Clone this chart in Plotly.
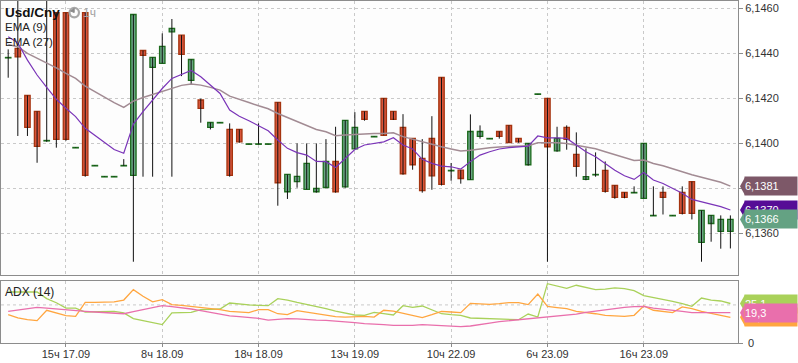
import plotly.graph_objects as go

# ---------------- data ----------------
tick_idx = [6, 16, 26, 36, 46, 56, 66]
tick_labels = ["15ч 17.09", "8ч 18.09", "18ч 18.09", "13ч 19.09", "10ч 22.09", "6ч 23.09", "16ч 23.09"]
price_ticks = [6.1360, 6.1380, 6.1400, 6.1420, 6.1440, 6.1460]

open_ = [6.14380, 6.14422, 6.14213, 6.14142, 6.14011, 6.14581, 6.14581, 6.13980, 6.14581, 6.13900,
         6.13851, 6.13851, 6.13900, 6.13858, 6.14413, 6.14338, 6.14356, 6.14496, 6.14481, 6.14280,
         6.14193, 6.14071, 6.14091, 6.14062, 6.14062, 6.13996, 6.13996, 6.13996, 6.14182, 6.13785,
         6.13830, 6.13796, 6.13785, 6.13804, 6.13920, 6.13807, 6.13976, 6.14142, 6.14029, 6.14200,
         6.14142, 6.14071, 6.14022, 6.13933, 6.14022, 6.14293, 6.13878, 6.13881, 6.13839, 6.14031,
         6.14020, 6.14053, 6.14080, 6.14022, 6.13905, 6.14218, 6.14200, 6.13967, 6.14071, 6.13951,
         6.13840, 6.13860, 6.13880, 6.13813, 6.13782, 6.13780, 6.13756, 6.13678, 6.13782, 6.13678,
         6.13782, 6.13830, 6.13560, 6.13644, 6.13609, 6.13609]
high = [6.14418, 6.14660, 6.14213, 6.14142, 6.14660, 6.14581, 6.14581, 6.13982, 6.14581, 6.13902,
        6.13853, 6.13853, 6.13930, 6.14573, 6.14413, 6.14382, 6.14489, 6.14553, 6.14481, 6.14373,
        6.14199, 6.14093, 6.14093, 6.14089, 6.14062, 6.13998, 6.14089, 6.13998, 6.14182, 6.13862,
        6.14000, 6.14000, 6.14000, 6.14019, 6.14074, 6.14102, 6.14139, 6.14142, 6.14031, 6.14200,
        6.14142, 6.14130, 6.14022, 6.14019, 6.14121, 6.14293, 6.13913, 6.13881, 6.14129, 6.14080,
        6.14022, 6.14053, 6.14080, 6.14022, 6.14000, 6.14220, 6.14200, 6.14074, 6.14080, 6.14049,
        6.13978, 6.13960, 6.13920, 6.13813, 6.13782, 6.13809, 6.14000, 6.13809, 6.13809, 6.13680,
        6.13809, 6.13830, 6.13702, 6.13680, 6.13680, 6.13680]
low = [6.14292, 6.14033, 6.14033, 6.13914, 6.14007, 6.13981, 6.14012, 6.13980, 6.13852, 6.13900,
       6.13851, 6.13851, 6.13900, 6.13474, 6.13852, 6.13852, 6.14356, 6.13852, 6.14299, 6.14262,
       6.14092, 6.14062, 6.14091, 6.13852, 6.14003, 6.13996, 6.13996, 6.13996, 6.13723, 6.13753,
       6.13803, 6.13796, 6.13781, 6.13804, 6.13781, 6.13803, 6.13976, 6.14101, 6.14029, 6.14036,
       6.14104, 6.13861, 6.13883, 6.13781, 6.13794, 6.13813, 6.13834, 6.13821, 6.13839, 6.14021,
       6.14020, 6.14021, 6.14004, 6.14003, 6.13901, 6.14218, 6.13474, 6.13963, 6.13972, 6.13852,
       6.13836, 6.13852, 6.13781, 6.13754, 6.13756, 6.13780, 6.13756, 6.13678, 6.13684, 6.13678,
       6.13684, 6.13662, 6.13474, 6.13563, 6.13532, 6.13533]
close = [6.14382, 6.14385, 6.14071, 6.13987, 6.14013, 6.14018, 6.14018, 6.13982, 6.13858, 6.13902,
         6.13853, 6.13853, 6.13902, 6.14573, 6.14391, 6.14382, 6.14431, 6.14511, 6.14396, 6.14373,
         6.14156, 6.14093, 6.14093, 6.13858, 6.14007, 6.13998, 6.13998, 6.13998, 6.13825, 6.13862,
         6.13853, 6.13911, 6.13800, 6.13920, 6.13785, 6.14102, 6.14071, 6.14107, 6.14031, 6.14036,
         6.14107, 6.13865, 6.13905, 6.13790, 6.13856, 6.13818, 6.13880, 6.13844, 6.14053, 6.14053,
         6.14022, 6.14031, 6.14004, 6.14007, 6.14000, 6.14220, 6.13985, 6.14022, 6.14018, 6.13898,
         6.13852, 6.13862, 6.13787, 6.13760, 6.13760, 6.13782, 6.14000, 6.13680, 6.13760, 6.13680,
         6.13689, 6.13689, 6.13702, 6.13680, 6.13662, 6.13662]

ema9 = [6.14474, 6.14447, 6.14370, 6.14304, 6.14249, 6.14196, 6.14156, 6.14119, 6.14067, 6.14037,
        6.14003, 6.13973, 6.13956, 6.14086, 6.14141, 6.14193, 6.14244, 6.14289, 6.14308, 6.14324,
        6.14296, 6.14259, 6.14222, 6.14148, 6.14121, 6.14101, 6.14077, 6.14056, 6.14015, 6.13978,
        6.13959, 6.13948, 6.13920, 6.13919, 6.13893, 6.13933, 6.13973, 6.13993, 6.14000, 6.14007,
        6.14025, 6.13993, 6.13975, 6.13929, 6.13911, 6.13899, 6.13896, 6.13886, 6.13919, 6.13948,
        6.13963, 6.13975, 6.13981, 6.13985, 6.13988, 6.14033, 6.14025, 6.14025, 6.14022, 6.13993,
        6.13963, 6.13941, 6.13911, 6.13881, 6.13856, 6.13840, 6.13871, 6.13837, 6.13822, 6.13800,
        6.13778, 6.13751, 6.13741, 6.13730, 6.13719, 6.13704]
ema27 = [6.14440, 6.14430, 6.14400, 6.14378, 6.14359, 6.14336, 6.14311, 6.14289, 6.14255, 6.14230,
         6.14204, 6.14181, 6.14160, 6.14188, 6.14204, 6.14218, 6.14233, 6.14247, 6.14258, 6.14264,
         6.14259, 6.14249, 6.14237, 6.14210, 6.14197, 6.14182, 6.14167, 6.14154, 6.14133, 6.14116,
         6.14096, 6.14081, 6.14062, 6.14052, 6.14034, 6.14037, 6.14040, 6.14043, 6.14044, 6.14044,
         6.14047, 6.14030, 6.14018, 6.14007, 6.13994, 6.13985, 6.13975, 6.13966, 6.13970, 6.13976,
         6.13981, 6.13984, 6.13985, 6.13988, 6.13990, 6.14003, 6.14004, 6.14003, 6.14000, 6.13993,
         6.13985, 6.13976, 6.13963, 6.13951, 6.13938, 6.13924, 6.13926, 6.13911, 6.13901, 6.13889,
         6.13874, 6.13861, 6.13849, 6.13840, 6.13827, 6.13810]

adx_green = [32.4, 32.4, 32.4, 32.4, 28.2, 25.6, 22.2, 22.2, 19.7, 19.9,
             19.9, 20.1, 19.1, 15.5, 14.2, 12.9, 11.7, 19.1, 19.3, 19.5,
             21.2, 21.4, 21.6, 25.4, 24.6, 24.2, 23.9, 23.7, 28.2, 27.3,
             25.8, 24.6, 23.3, 21.8, 20.3, 18.9, 17.8, 17.6, 19.5, 18.6,
             17.8, 23.7, 22.7, 23.5, 21.2, 18.6, 18.0, 17.6, 15.9, 15.7,
             15.5, 15.3, 14.8, 14.8, 18.4, 16.5, 37.7, 36.0, 34.7, 36.7,
             35.2, 33.9, 34.3, 35.0, 34.5, 33.3, 30.1, 29.0, 28.0, 26.5,
             25.0, 23.3, 28.6, 27.3, 26.7, 25.1]
adx_orange = [18.0, 15.9, 14.8, 14.2, 20.8, 19.1, 17.4, 16.9, 25.8, 25.8,
              25.8, 26.1, 27.3, 33.9, 29.7, 26.1, 27.5, 24.4, 23.9, 23.3,
              22.5, 21.8, 21.2, 20.1, 19.5, 19.3, 21.2, 21.2, 18.6, 18.0,
              20.6, 19.7, 18.9, 18.0, 16.7, 16.5, 16.9, 16.9, 16.5, 20.8,
              20.3, 18.9, 17.4, 16.1, 18.0, 20.1, 19.7, 19.3, 25.2, 24.8,
              24.6, 25.0, 25.6, 25.6, 24.4, 31.1, 23.3, 22.5, 21.8, 20.1,
              19.5, 18.6, 17.6, 17.2, 16.9, 17.6, 23.5, 20.8, 19.9, 19.3,
              22.9, 21.8, 20.1, 18.9, 17.8, 16.3]
adx_pink = [20.1, 21.0, 21.8, 22.7, 22.2, 21.6, 21.0, 20.6, 20.1, 19.7,
            19.3, 18.9, 18.6, 19.9, 21.2, 22.5, 23.7, 23.1, 22.5, 21.6,
            20.6, 19.5, 18.0, 17.2, 16.7, 16.3, 15.7, 14.6, 15.0, 15.5,
            15.3, 14.8, 14.6, 14.4, 14.0, 13.6, 12.9, 12.3, 12.1, 11.7,
            11.2, 11.2, 11.2, 11.7, 11.4, 11.2, 10.8, 10.4, 10.8, 11.9,
            12.7, 13.6, 14.2, 14.6, 15.0, 15.7, 16.3, 16.9, 17.6, 18.4,
            19.5, 20.1, 21.0, 21.8, 22.7, 23.1, 23.3, 22.2, 21.6, 21.0,
            20.1, 19.3, 19.3, 19.3, 19.3, 19.3]
adx_grid_level = 24.2

# ---------------- figure ----------------
n = len(close)
x = list(range(n))
up = [c >= o for o, c in zip(open_, close)]
body_base = [min(o, c) for o, c in zip(open_, close)]
body_len = [abs(c - o) for o, c in zip(open_, close)]

FONT = "Liberation Sans, Arial, sans-serif"
GRID = "#c9c9c9"
FRAME = "#8c8c8c"
C_EMA9, C_EMA27 = "#7a34b8", "#a28b93"
C_EMA9_TAG, C_EMA27_TAG = "#560c96", "#7d5868"
C_UP_TAG = "#64a283"
C_G, C_O, C_P = "#a9d15a", "#ffa640", "#e96fac"
UP_FILL, UP_LINE = "#69a683", "#1d6b1d"
DN_FILL, DN_LINE = "#d9553b", "#a5340f"

fig = go.Figure()
# wicks (black)
fig.add_trace(go.Ohlc(x=x, open=open_, high=high, low=low, close=close, xaxis="x", yaxis="y",
                      increasing=dict(line=dict(color="#111111", width=1)),
                      decreasing=dict(line=dict(color="#111111", width=1)),
                      tickwidth=0, hoverinfo="skip", showlegend=False))
# bodies
fig.add_trace(go.Bar(x=x, base=body_base, y=body_len, width=0.56, xaxis="x", yaxis="y",
                     marker=dict(color=[UP_FILL if u else DN_FILL for u in up],
                                 line=dict(color=[UP_LINE if u else DN_LINE for u in up], width=1.3)),
                     hoverinfo="skip", showlegend=False))
fig.add_trace(go.Scatter(x=x, y=ema27, mode="lines", line=dict(color=C_EMA27, width=1.5),
                         xaxis="x", yaxis="y", hoverinfo="skip", showlegend=False))
fig.add_trace(go.Scatter(x=x, y=ema9, mode="lines", line=dict(color=C_EMA9, width=1.2),
                         xaxis="x", yaxis="y", hoverinfo="skip", showlegend=False))
# ADX panel
for vals, col in ((adx_green, C_G), (adx_orange, C_O), (adx_pink, C_P)):
    fig.add_trace(go.Scatter(x=x, y=vals, mode="lines", line=dict(color=col, width=1.3),
                             xaxis="x2", yaxis="y2", hoverinfo="skip", showlegend=False))

# pixel helpers (plot area: x 1..738, y 1..343)
def PX(px):
    return (px - 1) / 737.0


def PY(py):
    return (343 - py) / 342.0


xr = [-0.747, 75.79]
axis_common = dict(showline=True, mirror=True, linecolor=FRAME, linewidth=1, zeroline=False)

fig.update_layout(
    width=798, height=363, margin=dict(l=1, r=60, t=1, b=20),
    paper_bgcolor="white", plot_bgcolor="#fdfdfd", showlegend=False,
    font=dict(family=FONT, size=11, color="#333333"),
    xaxis=dict(domain=[0, 1], anchor="y", range=xr, tickvals=tick_idx, showticklabels=False, ticks="",
               showgrid=True, gridcolor=GRID, griddash="dot", gridwidth=1,
               rangeslider=dict(visible=False), **axis_common),
    yaxis=dict(domain=[PY(275), 1], anchor="x", side="right", range=[6.13415, 6.14633],
               tickvals=price_ticks, ticktext=[f"{v:.4f}".replace(".", ",") for v in price_ticks],
               ticks="outside", ticklen=4, tickcolor=FRAME, showgrid=True, gridcolor=GRID, griddash="dot",
               tickfont=dict(size=11, color="#333333"), **axis_common),
    xaxis2=dict(domain=[0, 1], anchor="y2", matches="x", range=xr, tickvals=tick_idx, ticktext=tick_labels,
                ticks="outside", ticklen=3, tickcolor=FRAME, showgrid=True, gridcolor=GRID, griddash="dot",
                ticklabelstandoff=-2,
                tickfont=dict(size=11, color="#333333"), **axis_common),
    yaxis2=dict(domain=[0, PY(281)], anchor="x2", side="right", range=[0, 39.4], tickvals=[0],
                showticklabels=False,
                ticks="outside", ticklen=4, tickcolor=FRAME, showgrid=False, **axis_common),
)

shapes = [
    dict(type="line", xref="paper", yref="y2", x0=0, x1=1, y0=adx_grid_level, y1=adx_grid_level,
         line=dict(color=GRID, width=1, dash="dot"), layer="below"),
    dict(type="circle", xref="paper", yref="paper", x0=PX(69.5), x1=PX(79), y0=PY(17.3), y1=PY(7.8),
         line=dict(color="#a8a8a8", width=2.2)),
    dict(type="path", xref="paper", yref="paper",
         path=f"M {PX(74.2)},{PY(12.5)} L {PX(74.2)},{PY(8.6)} L {PX(70.6)},{PY(11)} Z",
         fillcolor="#8a8a8a", line=dict(color="#8a8a8a", width=1)),
]
annotations = [
    dict(text="<b>Usd/Cny</b>", xref="paper", yref="paper", x=PX(3), y=PY(12), xanchor="left",
         yanchor="middle", showarrow=False, font=dict(size=13.5, color="#111111", family=FONT)),
    dict(text="1ч", xref="paper", yref="paper", x=PX(81), y=PY(13), xanchor="left",
         yanchor="middle", showarrow=False, font=dict(size=12, color="#a3a3a3", family=FONT)),
    dict(text="EMA (9)", xref="paper", yref="paper", x=PX(3), y=PY(27), xanchor="left",
         yanchor="middle", showarrow=False, font=dict(size=11.5, color="#222222", family=FONT)),
    dict(text="EMA (27)", xref="paper", yref="paper", x=PX(3), y=PY(42), xanchor="left",
         yanchor="middle", showarrow=False, font=dict(size=11.5, color="#222222", family=FONT)),
    dict(text="ADX (14)", xref="paper", yref="paper", x=PX(3), y=PY(292), xanchor="left",
         yanchor="middle", showarrow=False, font=dict(size=12, color="#222222", family=FONT)),
    dict(text="0", xref="paper", yref="y2", x=1, y=0, xanchor="left", yanchor="middle", xshift=8,
         showarrow=False, font=dict(size=11, color="#333333", family=FONT)),
]


def tag(yref, value, color, text):
    shapes.append(dict(type="path", xref="paper", yref=yref, xsizemode="pixel", ysizemode="pixel",
                       xanchor=1, yanchor=value, path="M 2,0 L 7,9 L 7,-9 Z",
                       fillcolor=color, line=dict(width=0), layer="above"))
    annotations.append(dict(text=text, xref="paper", yref=yref, x=1, y=value, xanchor="left", yanchor="middle",
                            xshift=6, showarrow=False, bgcolor=color, width=52, height=18, borderpad=0,
                            align="left", font=dict(size=11, color="white", family=FONT)))


fmt4 = lambda v: f"{v:.4f}".replace(".", ",")
fmt1 = lambda v: f"{v:.1f}".replace(".", ",")
tag("y", ema27[-1], C_EMA27_TAG, fmt4(ema27[-1]))
tag("y", ema9[-1], C_EMA9_TAG, fmt4(ema9[-1]))
tag("y", close[-1], C_UP_TAG, fmt4(close[-1]))
tag("y2", adx_green[-1], C_G, fmt1(adx_green[-1]))
tag("y2", adx_orange[-1], C_O, fmt1(adx_orange[-1]))
tag("y2", adx_pink[-1], C_P, fmt1(adx_pink[-1]))

fig.update_layout(shapes=shapes, annotations=annotations)
fig.write_html("out.html", config={"displayModeBar": False},
               post_script="document.body.style.margin='0px';document.body.style.overflow='hidden';")
